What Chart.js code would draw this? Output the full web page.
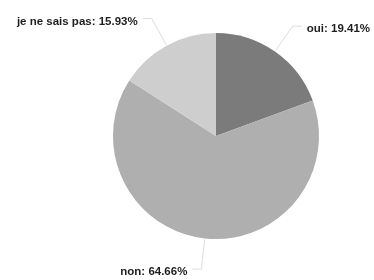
<!DOCTYPE html>
<html>
<head>
<meta charset="utf-8">
<script src="https://cdn.jsdelivr.net/npm/chart.js@4/dist/chart.umd.min.js"></script>
<style>
html,body{margin:0;padding:0;background:#fff;}
#wrap{width:374px;height:280px;}
</style>
</head>
<body>
<div id="wrap"><canvas id="c" width="374" height="280"></canvas></div>
<script>
const categories = ["oui", "non", "je ne sais pas"];
const values = [19.41, 64.66, 15.93];
const colors = ["#7b7b7b", "#afafaf", "#cecece"];

const labelPlugin = {
  id: 'pieLabels',
  afterDatasetsDraw(chart) {
    const ctx = chart.ctx;
    const meta = chart.getDatasetMeta(0);
    ctx.save();
    ctx.font = 'bold 11.5px "Liberation Sans", Arial, sans-serif';
    ctx.textBaseline = 'middle';
    meta.data.forEach((arc, i) => {
      const p = arc.getProps(['x','y','startAngle','endAngle','outerRadius'], true);
      const mid = (p.startAngle + p.endAngle) / 2;
      const c = Math.cos(mid), s = Math.sin(mid);
      const x0 = p.x + c * (p.outerRadius + 1);
      const y0 = p.y + s * (p.outerRadius + 1);
      const x1 = p.x + c * (p.outerRadius + 31);
      const y1 = p.y + s * (p.outerRadius + 31);
      const dir = c >= 0 ? 1 : -1;
      const x2 = x1 + dir * 9;
      ctx.strokeStyle = '#dcdcdc';
      ctx.lineWidth = 1;
      ctx.beginPath();
      ctx.moveTo(x0, y0); ctx.lineTo(x1, y1); ctx.lineTo(x2, y1);
      ctx.stroke();
      ctx.fillStyle = '#1e1e1e';
      ctx.textAlign = dir > 0 ? 'left' : 'right';
      const txt = categories[i] + ': ' + values[i].toFixed(2) + '%';
      ctx.fillText(txt, x2 + dir * 5, y1 + 3);
    });
    ctx.restore();
  }
};

new Chart(document.getElementById('c'), {
  type: 'pie',
  data: {
    labels: categories,
    datasets: [{
      data: values,
      backgroundColor: colors,
      borderWidth: 0
    }]
  },
  options: {
    responsive: false,
    animation: false,
    layout: { padding: { left: 113, right: 55, top: 33, bottom: 41 } },
    plugins: { legend: { display: false }, tooltip: { enabled: false } }
  },
  plugins: [labelPlugin]
});
</script>
</body>
</html>
